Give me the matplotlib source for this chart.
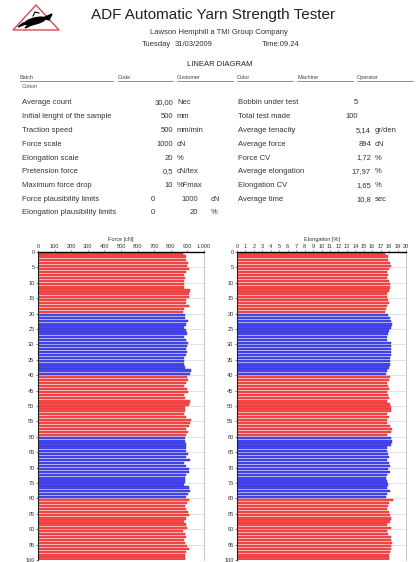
import numpy as np
import matplotlib
matplotlib.use("Agg")
import matplotlib.pyplot as plt
from matplotlib.patches import Polygon, Ellipse

plt.rcParams['font.family'] = ['Liberation Sans', 'DejaVu Sans']

# 100 breaks, 5 bobbins x 20 tests
force = [875, 891, 890, 901, 900, 907, 891, 881, 887, 877,
         877, 878, 915, 911, 907, 891, 890, 911, 881, 875,
         887, 886, 901, 891, 881, 890, 895, 881, 891, 901,
         895, 894, 900, 890, 877, 881, 878, 887, 921, 917,
         895, 901, 891, 881, 900, 901, 881, 887, 915, 907,
         887, 886, 881, 891, 921, 917, 907, 891, 906, 890,
         887, 886, 891, 890, 891, 901, 890, 917, 881, 891,
         911, 907, 891, 887, 886, 881, 907, 915, 906, 891,
         907, 895, 887, 891, 901, 907, 890, 881, 891, 895,
         875, 887, 891, 881, 886, 895, 911, 891, 887, 883]

elongation = [17.47, 17.87, 17.87, 18.11, 18.27, 17.99, 17.79, 17.87, 17.79, 17.99,
              18.11, 18.11, 17.99, 17.79, 17.71, 17.87, 17.99, 17.71, 17.59, 17.47,
              17.87, 18.11, 18.27, 18.39, 18.19, 18.03, 17.87, 17.79, 17.71, 18.27,
              18.19, 18.19, 18.19, 18.19, 18.11, 18.11, 18.11, 17.99, 17.79, 17.59,
              18.11, 17.99, 17.71, 17.87, 17.99, 17.79, 17.87, 17.99, 17.79, 18.11,
              18.27, 18.19, 17.79, 17.99, 17.71, 17.79, 18.11, 18.39, 18.27, 17.79,
              18.27, 18.39, 18.27, 17.79, 17.71, 17.87, 17.99, 17.79, 17.99, 18.11,
              17.87, 18.11, 17.79, 17.59, 17.71, 17.87, 17.79, 18.11, 17.79, 17.59,
              18.50, 17.99, 17.87, 17.79, 17.99, 18.11, 18.27, 18.11, 17.79, 18.19,
              17.71, 17.87, 18.19, 18.27, 18.39, 18.19, 18.27, 18.11, 17.99, 17.99]

tests_per_bobbin = 20

force_ticks = list(range(0, 1001, 100))
force_ticklabels = [str(v) for v in force_ticks[:-1]] + ['1.000']
elong_ticks = list(range(0, 21))
row_ticks = list(range(0, 101, 5))

fields = ['Batch', 'Code', 'Customer', 'Color', 'Machine', 'Operator']
batch_value = 'Cotton'

left_labels = ['Average count', 'Initial lenght of the sample', 'Traction speed',
               'Force scale', 'Elongation scale', 'Pretension force',
               'Maximum force drop', 'Force plausibility limits',
               'Elongation plausibility limits']
left_values = ['30,00', '500', '500', '1000', '20', '0,5', '10', '1000', '20']
left_units = ['Nec', 'mm', 'mm/min', 'cN', '%', 'cN/tex', '%Fmax', 'cN', '%']
limit_low = ['0', '0']

right_labels = ['Bobbin under test', 'Total test made', 'Average tenacity',
                'Average force', 'Force CV', 'Average elongation',
                'Elongation CV', 'Average time']
right_values = ['5', '100', '5,14', '894', '1,72', '17,97', '1,65', '10,8']
right_units = ['', '', 'gr/den', 'cN', '%', '%', '%', 'sec']

W, H = 420, 562
fig = plt.figure(figsize=(W / 100, H / 100), dpi=100)

# page layer in pixel units
bg = fig.add_axes([0, 0, 1, 1])
bg.set_xlim(0, W)
bg.set_ylim(H, 0)
bg.axis('off')

# logo
tri = Polygon([[36, 5], [59, 30], [13, 30]], closed=True, fill=False,
              edgecolor='#d84a5a', linewidth=1.0, joinstyle='round')
bg.add_patch(tri)
bg.add_patch(Ellipse((35, 21), 21, 6, angle=-14, color='black'))
bg.add_patch(Polygon([[23, 23], [18, 27], [28, 23]], color='black'))
bg.add_patch(Polygon([[43, 18], [52, 14], [49, 20]], color='black'))
bg.add_patch(Polygon([[30, 23], [25, 28], [34, 24]], color='black'))
bg.plot([33, 35, 39], [16, 12, 13], color='black', lw=0.8)

txt = '#333333'
bg.text(213, 15, 'ADF Automatic Yarn Strength Tester', fontsize=11,
        ha='center', va='center', color='#222222')
bg.text(219, 33, 'Lawson Hemphill a TMI Group Company', fontsize=5.5,
        ha='center', va='center', color=txt)
bg.text(142, 45, 'Tuesday', fontsize=5.5, va='center', color=txt)
bg.text(175, 45, '31/03/2009', fontsize=5.5, va='center', color=txt)
bg.text(262, 45, 'Time:09.24', fontsize=5.5, va='center', color=txt)
bg.text(220, 65, 'LINEAR DIAGRAM', fontsize=5.5, ha='center', va='center',
        color='#222222')

field_x = [20, 118, 177, 237, 297, 357]
field_end = [113, 173, 233, 293, 353, 413]
for name, x0, x1 in zip(fields, field_x, field_end):
    bg.text(x0, 79, name, fontsize=4, va='baseline', color='#444444')
    bg.plot([x0, x1], [80.5, 80.5], color='#666666', lw=0.5)
bg.text(22, 88, batch_value, fontsize=4, va='baseline', color='#555555')

row_y = 103
row_step = 13.75
for i, lab in enumerate(left_labels):
    y = row_y + i * row_step
    bg.text(22, y, lab, fontsize=5.5, va='center', color=txt)
    if i < 7:
        bg.text(173, y, left_values[i], fontsize=5.5, ha='right', va='center', color=txt)
        bg.text(177, y, left_units[i], fontsize=5.5, va='center', color=txt)
    else:
        bg.text(153, y, limit_low[i - 7], fontsize=5.5, ha='center', va='center', color=txt)
        bg.text(198, y, left_values[i], fontsize=5.5, ha='right', va='center', color=txt)
        bg.text(211, y, left_units[i], fontsize=5.5, va='center', color=txt)

for i, lab in enumerate(right_labels):
    y = row_y + i * row_step
    bg.text(238, y, lab, fontsize=5.5, va='center', color=txt)
    if right_units[i]:
        bg.text(371, y, right_values[i], fontsize=5.5, ha='right', va='center', color=txt)
        bg.text(375, y, right_units[i], fontsize=5.5, va='center', color=txt)
    else:
        bg.text(358, y, right_values[i], fontsize=5.5, ha='right', va='center', color=txt)

red_face, red_edge = '#f44a4a', '#e23232'
blue_face, blue_edge = '#4848ec', '#2e2ed8'


def bar_panel(rect, values, xmax, ticks, ticklabels, title):
    ax = fig.add_axes(rect)
    rows = np.arange(len(values))
    odd = (rows // tests_per_bobbin) % 2 == 1
    faces = [blue_face if o else red_face for o in odd]
    edges = [blue_edge if o else red_edge for o in odd]
    ax.barh(rows + 0.5, values, height=0.74, color=faces, edgecolor=edges,
            linewidth=0.3, zorder=2)
    ax.set_xlim(0, xmax)
    ax.set_ylim(100, 0)
    ax.set_yticks(row_ticks)
    ax.set_yticklabels([str(v) for v in row_ticks])
    ax.set_xticks(ticks)
    ax.set_xticklabels(ticklabels)
    ax.xaxis.tick_top()
    ax.xaxis.set_label_position('top')
    ax.set_xlabel(title, fontsize=4, labelpad=1.5, color=txt)
    ax.tick_params(axis='both', labelsize=4.1, length=1.5, width=0.4, pad=1,
                   colors=txt)
    ax.yaxis.grid(True, color='#d6d6d6', lw=0.5, zorder=1)
    ax.set_axisbelow(True)
    ax.spines['top'].set_color('black')
    ax.spines['top'].set_linewidth(1.0)
    ax.spines['left'].set_color('#222222')
    ax.spines['left'].set_linewidth(0.8)
    ax.spines['right'].set_color('#bbbbbb')
    ax.spines['right'].set_linewidth(0.6)
    ax.spines['bottom'].set_visible(False)
    return ax


ax_top = 252
ax_bottom = 560
frac_b = (H - ax_bottom) / H
frac_h = (ax_bottom - ax_top) / H
bar_panel([38 / W, frac_b, 166 / W, frac_h], force, 1000,
          force_ticks, force_ticklabels, 'Force [cN]')
bar_panel([237 / W, frac_b, 169 / W, frac_h], elongation, 20,
          elong_ticks, [str(v) for v in elong_ticks], 'Elongation [%]')

fig.savefig('out.png', dpi=100)
